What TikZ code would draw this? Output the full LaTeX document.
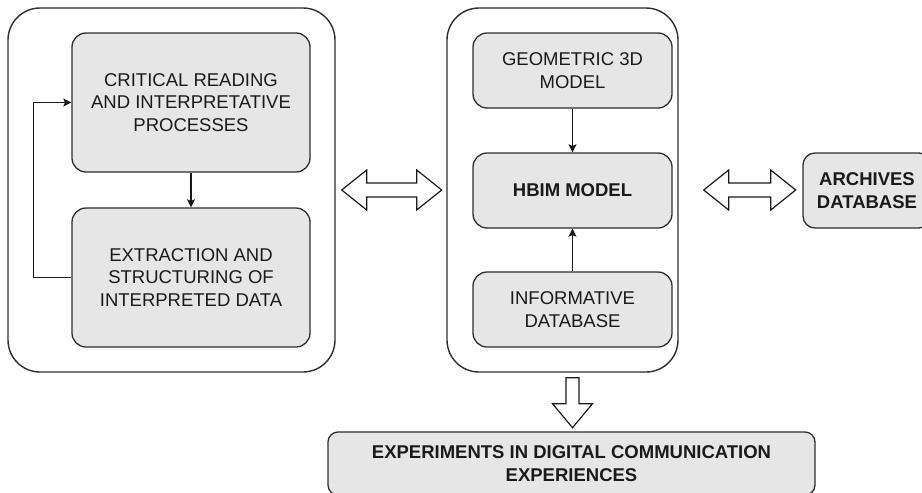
\documentclass[tikz,border=0pt]{standalone}
\usepackage{fontspec}
\setmainfont{Liberation Sans}
\usetikzlibrary{arrows.meta,calc}
\definecolor{boxfill}{HTML}{E6E6E6}
\definecolor{edge}{HTML}{2E2E2E}
\definecolor{ink}{HTML}{1A1A1A}
\begin{document}
\begin{tikzpicture}[x=1pt,y=-1pt,
 outerbox/.style={draw=edge,line width=1.4pt,rounded corners=32pt,inner sep=0pt,fill=white},
 innerbox/.style={draw=edge,line width=1.3pt,fill=boxfill,rounded corners=14pt,inner sep=0pt,align=center,font=\fontsize{18.5}{22.3}\selectfont,text=ink},
 boldtext/.style={font=\fontsize{18.5}{22.3}\selectfont\bfseries},
 conn/.style={draw=ink,line width=1.2pt,-{Stealth[length=8pt,width=8pt,inset=1.5pt]}},
 fat/.style={draw=ink,line width=1.2pt,fill=white,line join=miter}]
\useasboundingbox (0,0) rectangle (922,493);
% outer containers
\node[outerbox,minimum width=327pt,minimum height=364pt] (L) at (171.5,190) {};
\node[outerbox,minimum width=231pt,minimum height=364pt] (M) at (562.5,190) {};
% left column
\node[innerbox,minimum width=238pt,minimum height=139pt] (C) at (191,102.5) {CRITICAL READING\\AND INTERPRETATIVE\\PROCESSES};
\node[innerbox,minimum width=238pt,minimum height=139pt] (E) at (191,277.5) {EXTRACTION AND\\STRUCTURING OF\\INTERPRETED DATA};
% middle column
\node[innerbox,minimum width=199pt,minimum height=75pt] (G) at (572.5,70.5) {GEOMETRIC 3D\\MODEL};
\node[innerbox,boldtext,minimum width=199pt,minimum height=75pt] (H) at (572.5,190.5) {HBIM MODEL};
\node[innerbox,minimum width=199pt,minimum height=75pt] (I) at (572.5,309.5) {INFORMATIVE\\DATABASE};
% right box
\node[innerbox,boldtext,rounded corners=12pt,minimum width=128pt,minimum height=75pt] (A) at (867,190.5) {ARCHIVES\\DATABASE};
% bottom box
\node[innerbox,boldtext,rounded corners=10pt,minimum width=487pt,minimum height=63pt] (X) at (571.5,463.5) {EXPERIMENTS IN DIGITAL COMMUNICATION\\EXPERIENCES};
% connectors
\draw[conn] (C.south) -- (E.north);
\draw[conn] (E.west) -- ++(-38,0) |- (C.west);
\draw[conn] (G.south) -- (H.north);
\draw[conn] (I.north) -- (H.south);
% fat double arrow left-middle
\draw[fat] ($(L.east)+(6,0)$) -- ++(25,-20) -- ++(0,13) -- ++(50,0) -- ++(0,-13) -- ++(25,20) -- ++(-25,20) -- ++(0,-13) -- ++(-50,0) -- ++(0,13) -- cycle;
% fat double arrow middle-archives
\draw[fat] ($(M.east)+(25,0)$) -- ++(25,-20) -- ++(0,13) -- ++(42,0) -- ++(0,-13) -- ++(25,20) -- ++(-25,20) -- ++(0,-13) -- ++(-42,0) -- ++(0,13) -- cycle;
% fat down arrow
\draw[fat] ($(I.south |- M.south)+(-6.5,5)$) -- ++(13,0) -- ++(0,26) -- ++(13.5,0) -- ++(-20,24) -- ++(-20,-24) -- ++(13.5,0) -- cycle;
\end{tikzpicture}
\end{document}
